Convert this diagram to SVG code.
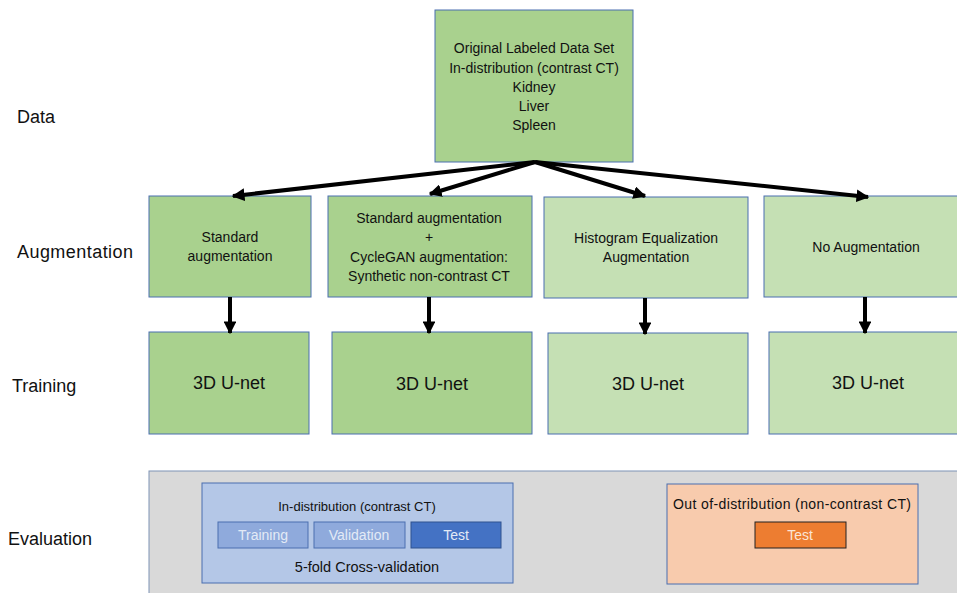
<svg xmlns="http://www.w3.org/2000/svg" width="957" height="593" viewBox="0 0 957 593">
<defs>
<marker id="ah" viewBox="0 0 10 10" refX="9" refY="5" markerWidth="3.2" markerHeight="3.2" orient="auto" markerUnits="strokeWidth">
<path d="M0,0 L10,5 L0,10 z" fill="#000"/>
</marker>
<style>
text{font-family:"Liberation Sans",Arial,sans-serif;fill:#111;text-anchor:middle}
.lbl{font-size:18px;text-anchor:start}
.bx{stroke:#4A6FB0;stroke-width:1}
.dk{fill:#A9D18E}
.lt{fill:#C5E0B4}
.t13{font-size:13px}
.t14{font-size:14px}
.t18{font-size:18px}
.conn line{stroke:#000;stroke-width:4;marker-end:url(#ah)}
.sub{font-size:14px;fill:#E3EAF6}
</style>
</defs>
<rect width="957" height="593" fill="#fff"/>

<g id="labels">
<text class="lbl" x="17" y="123">Data</text>
<text class="lbl" x="17" y="258" textLength="116">Augmentation</text>
<text class="lbl" x="12" y="392">Training</text>
<text class="lbl" x="8" y="545">Evaluation</text>
</g>

<g id="data">
<rect class="bx dk" x="435" y="10" width="198" height="152"/>
<text class="t14" x="534" y="53">Original Labeled Data Set</text>
<text class="t14" x="534" y="73">In-distribution (contrast CT)</text>
<text class="t14" x="534" y="92">Kidney</text>
<text class="t14" x="534" y="111">Liver</text>
<text class="t14" x="534" y="130">Spleen</text>
</g>

<g id="aug1">
<rect class="bx dk" x="149" y="196" width="162" height="101"/>
<text class="t14" x="230" y="242">Standard</text>
<text class="t14" x="230" y="261">augmentation</text>
</g>
<g id="aug2">
<rect class="bx dk" x="328" y="196" width="204" height="101"/>
<text class="t14" x="429" y="223">Standard augmentation</text>
<text class="t14" x="429" y="242">+</text>
<text class="t14" x="429" y="262">CycleGAN augmentation:</text>
<text class="t14" x="429" y="281">Synthetic non-contrast CT</text>
</g>
<g id="aug3">
<rect class="bx lt" x="544" y="197" width="204" height="101"/>
<text class="t14" x="646" y="243">Histogram Equalization</text>
<text class="t14" x="646" y="262">Augmentation</text>
</g>
<g id="aug4">
<rect class="bx lt" x="764" y="196" width="200" height="101"/>
<text class="t14" x="866" y="252">No Augmentation</text>
</g>

<g id="train1">
<rect class="bx dk" x="149" y="332" width="160" height="102"/>
<text class="t18" x="229" y="389">3D U-net</text>
</g>
<g id="train2">
<rect class="bx dk" x="332" y="332" width="200" height="102"/>
<text class="t18" x="432" y="390">3D U-net</text>
</g>
<g id="train3">
<rect class="bx lt" x="548" y="333" width="200" height="101"/>
<text class="t18" x="648" y="390">3D U-net</text>
</g>
<g id="train4">
<rect class="bx lt" x="769" y="332" width="195" height="102"/>
<text class="t18" x="868" y="389">3D U-net</text>
</g>

<g id="connectors" class="conn">
<line x1="535" y1="162" x2="233" y2="196"/>
<line x1="535" y1="162" x2="430" y2="194"/>
<line x1="535" y1="162" x2="645" y2="196"/>
<line x1="535" y1="162" x2="868" y2="197"/>
<line x1="230" y1="297" x2="230" y2="333"/>
<line x1="429" y1="297" x2="429" y2="333"/>
<line x1="645" y1="298" x2="645" y2="334"/>
<line x1="865" y1="297" x2="865" y2="333"/>
</g>

<g id="evaluation">
<rect x="149" y="471" width="815" height="130" fill="#D9D9D9" stroke="#7F93B5" stroke-width="1"/>
</g>
<g id="in-dist">
<rect x="202" y="483" width="311" height="100" fill="#B4C7E7" stroke="#4A6FB0"/>
<text class="t13" x="357" y="511">In-distribution (contrast CT)</text>
<rect x="218" y="522" width="90" height="26" fill="#8FAADC" stroke="#4A6FB0"/>
<text class="sub" x="263" y="540">Training</text>
<rect x="314" y="522" width="91" height="26" fill="#8FAADC" stroke="#4A6FB0"/>
<text class="sub" x="359" y="540">Validation</text>
<rect x="411" y="522" width="90" height="26" fill="#4472C4" stroke="#2F528F"/>
<text class="sub" x="456" y="540">Test</text>
<text x="367" y="572" style="font-size:14.5px">5-fold Cross-validation</text>
</g>
<g id="out-dist">
<rect x="667" y="484" width="251" height="100" fill="#F8CBAD" stroke="#4A6FB0"/>
<text x="792" y="509" style="font-size:14px" textLength="238">Out of-distribution (non-contrast CT)</text>
<rect x="755" y="522" width="91" height="26" fill="#ED7D31" stroke="#222"/>
<text class="sub" x="800" y="540" style="fill:#FBE5D6">Test</text>
</g>
</svg>
